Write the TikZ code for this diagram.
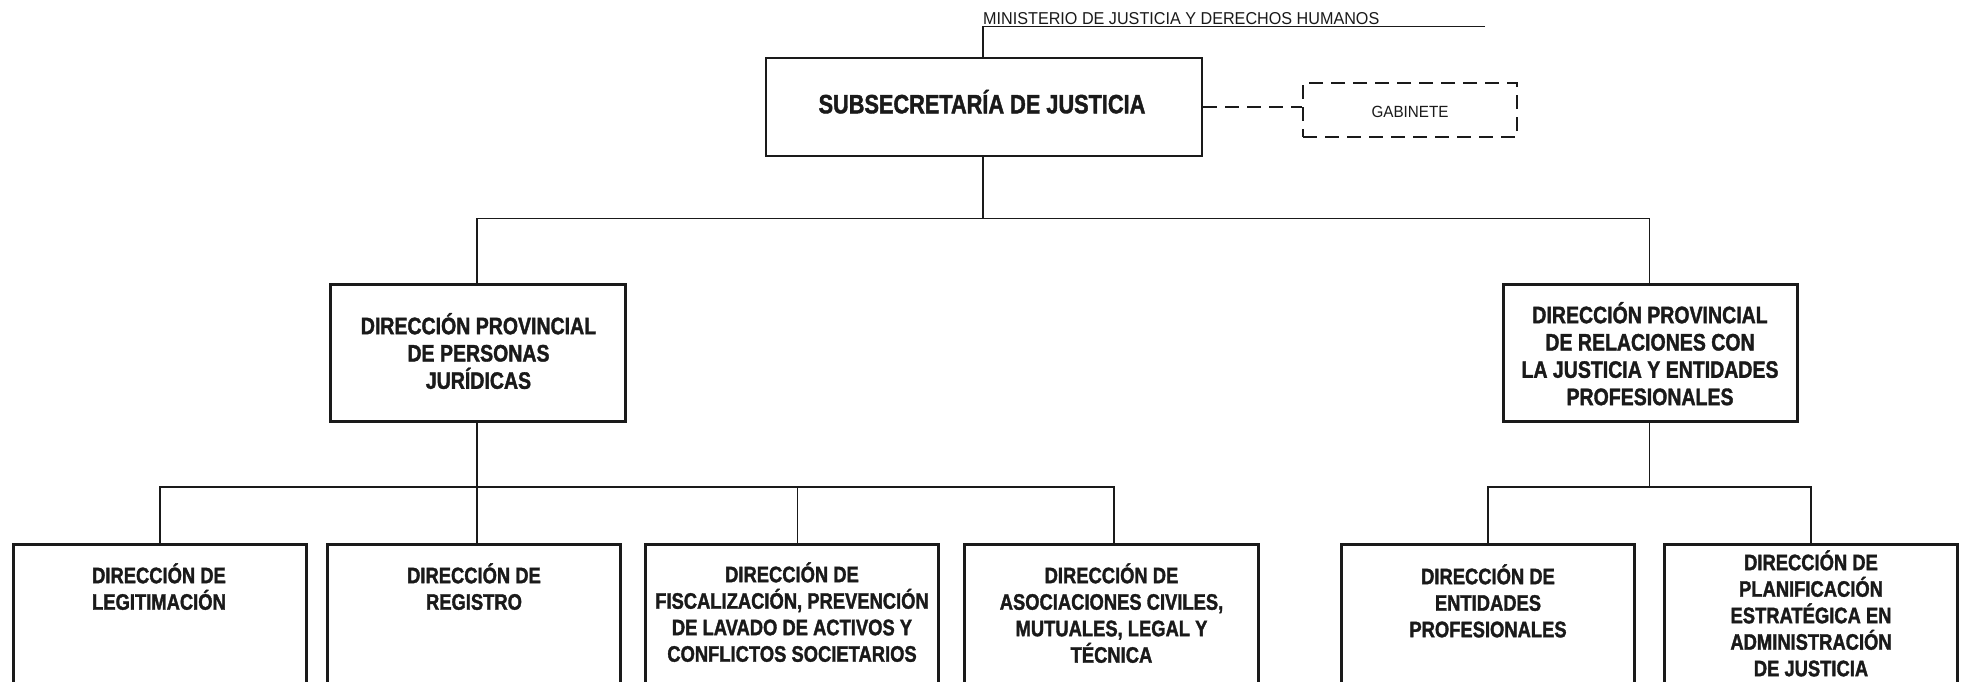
\documentclass[tikz,border=0pt]{standalone}
\usepackage{fontspec}
\setmainfont{Liberation Sans}
\newfontfamily\nbfont{Liberation Sans}[FakeStretch=0.82,FakeBold=1.5]
\newfontfamily\nrfont{Liberation Sans}[FakeStretch=0.94]
\newcommand{\firststrut}{\rule{0pt}{24pt}}
\definecolor{ink}{HTML}{1A1A1A}
\begin{document}
\begin{tikzpicture}[x=1pt,y=-1pt,
  box/.style={draw=ink, line width=2.7pt, inner sep=0pt},
  dbox/.style={draw=ink, line width=2.7pt, inner sep=0pt, dash pattern=on 14pt off 8pt},
  link/.style={draw=ink, line width=1.3pt},
  dlink/.style={draw=ink, line width=2.7pt, dash pattern=on 14pt off 8pt},
  lbl/.style={inner sep=0pt, text=ink, align=center, anchor=north},
  bigtxt/.style={lbl, font=\nbfont\bfseries\fontsize{26.5}{31}\selectfont},
  dptxt/.style={lbl, font=\nbfont\bfseries\fontsize{23.8}{27.3}\selectfont},
  bottxt/.style={lbl, font=\nbfont\bfseries\fontsize{22.4}{26.5}\selectfont},
  smalltxt/.style={inner sep=0pt, text=ink, font=\nrfont\fontsize{17.2}{20}\selectfont},
  gabtxt/.style={inner sep=0pt, text=ink, font=\nrfont\fontsize{16.2}{19}\selectfont},
]
\useasboundingbox (0,0) rectangle (1968,681);
\clip (0,0) rectangle (1968,681);
\fill[white] (0,0) rectangle (1968,681);

% top label
\node[smalltxt, anchor=base west] (min) at (983,24) {MINISTERIO DE JUSTICIA Y DERECHOS HUMANOS};
\coordinate (minL) at (983,26.5);
\coordinate (minR) at (1485,26.5);

% boxes
\node[box, minimum width=436, minimum height=98] (sub) at (984,107) {};
\node[dbox, minimum width=214, minimum height=54] (gab) at (1410,110) {};
\node[box, minimum width=295, minimum height=137] (dpL) at (478,353) {};
\node[box, minimum width=294, minimum height=137] (dpR) at (1650.5,353) {};

\node[box, minimum width=293, minimum height=220, anchor=north] (b1) at (160,543.3) {};
\node[box, minimum width=293, minimum height=220, anchor=north] (b2) at (474,543.3) {};
\node[box, minimum width=293, minimum height=220, anchor=north] (b3) at (792,543.3) {};
\node[box, minimum width=294, minimum height=220, anchor=north] (b4) at (1111.5,543.3) {};
\node[box, minimum width=293, minimum height=220, anchor=north] (b5) at (1488,543.3) {};
\node[box, minimum width=293, minimum height=220, anchor=north] (b6) at (1811,543.3) {};

% texts
\node[bigtxt, anchor=base] (subt) at (982,113.3) {SUBSECRETARÍA DE JUSTICIA};
\node[gabtxt, anchor=base] (gabt) at (1410,117) {GABINETE};
\node[dptxt] (dpLt) at (478.5,334-24) {\firststrut DIRECCIÓN PROVINCIAL\\DE PERSONAS\\JURÍDICAS};
\node[dptxt] (dpRt) at (1650,323-24) {\firststrut DIRECCIÓN PROVINCIAL\\DE RELACIONES CON\\LA JUSTICIA Y ENTIDADES\\PROFESIONALES};
\node[bottxt] (b1t) at (159,583-24) {\firststrut DIRECCIÓN DE\\LEGITIMACIÓN};
\node[bottxt] (b2t) at (474,583-24) {\firststrut DIRECCIÓN DE\\REGISTRO};
\node[bottxt] (b3t) at (792,582-24) {\firststrut DIRECCIÓN DE\\FISCALIZACIÓN, PREVENCIÓN\\DE LAVADO DE ACTIVOS Y\\CONFLICTOS SOCIETARIOS};
\node[bottxt] (b4t) at (1111.5,583-24) {\firststrut DIRECCIÓN DE\\ASOCIACIONES CIVILES,\\MUTUALES, LEGAL Y\\TÉCNICA};
\node[bottxt] (b5t) at (1488,584-24) {\firststrut DIRECCIÓN DE\\ENTIDADES\\PROFESIONALES};
\node[bottxt] (b6t) at (1811,570-24) {\firststrut DIRECCIÓN DE\\PLANIFICACIÓN\\ESTRATÉGICA EN\\ADMINISTRACIÓN\\DE JUSTICIA};

% connectors
\draw[link] (minR) -- (minL) -- (minL |- sub.north);
\draw[dlink] (sub.east) -- (sub.east -| gab.west);
\coordinate (h1) at (983,218.5);
\draw[link] (sub.south -| h1) -- (h1);
\draw[link] (dpL.north -| 477,0) |- (h1) -| (dpR.north -| 1649.5,0);

\coordinate (h2) at (477,487);
\draw[link] (dpL.south -| h2) -- (h2 |- b2.north);
\draw[link] (b1.north) |- (h2) -| ([xshift=2.5pt]b4.north);
\draw[link] ([xshift=5.5pt]b3.north) -- ([xshift=5.5pt]b3.north |- h2);

\coordinate (h3) at (1649.5,487);
\draw[link] (dpR.south -| h3) -- (h3);
\draw[link] (b5.north) |- (h3) -| (b6.north);
\end{tikzpicture}
\end{document}
